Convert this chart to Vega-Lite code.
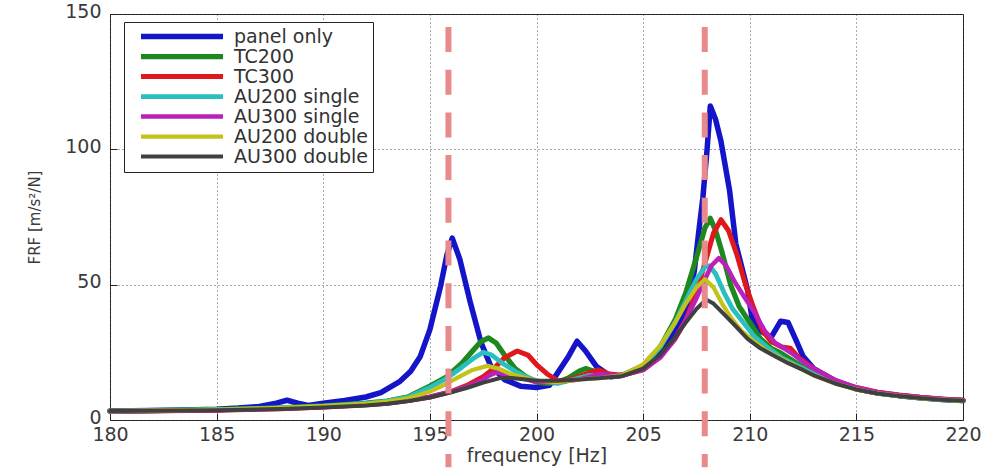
{
  "$schema": "https://vega.github.io/schema/vega-lite/v6.json",
  "width": 853,
  "height": 406,
  "autosize": {"type": "none"},
  "padding": {"left": 110, "top": 14, "right": 23, "bottom": 48},
  "background": "white",
  "config": {
    "view": {"stroke": "#222", "strokeWidth": 1},
    "font": "DejaVu Sans",
    "axis": {
      "domain": false,
      "grid": true,
      "gridColor": "#444",
      "gridDash": [1, 3],
      "gridWidth": 1,
      "gridOpacity": 0.9,
      "ticks": true,
      "tickColor": "#222",
      "tickSize": -7,
      "labelFont": "DejaVu Sans",
      "labelFontSize": 19,
      "labelColor": "#3a3a3a",
      "titleFont": "DejaVu Sans",
      "titleFontWeight": "normal",
      "titleColor": "#3a3a3a"
    }
  },
  "layer": [
    {
      "data": {"values": [
        {"s":"panel only","f":180,"v":3.3},{"s":"panel only","f":183,"v":3.6},{"s":"panel only","f":185,"v":4.0},{"s":"panel only","f":186,"v":4.4},{"s":"panel only","f":187,"v":5.0},{"s":"panel only","f":187.8,"v":6.2},{"s":"panel only","f":188.3,"v":7.3},{"s":"panel only","f":188.8,"v":6.2},{"s":"panel only","f":189.3,"v":5.4},{"s":"panel only","f":190,"v":6.2},{"s":"panel only","f":191,"v":7.2},{"s":"panel only","f":192,"v":8.5},{"s":"panel only","f":192.7,"v":10.1},{"s":"panel only","f":193.6,"v":14.3},{"s":"panel only","f":194.1,"v":18},{"s":"panel only","f":194.55,"v":23.5},{"s":"panel only","f":195.0,"v":33.4},{"s":"panel only","f":195.5,"v":49.4},{"s":"panel only","f":195.8,"v":61},{"s":"panel only","f":196.05,"v":67.2},{"s":"panel only","f":196.4,"v":59.5},{"s":"panel only","f":196.9,"v":43.3},{"s":"panel only","f":197.4,"v":28.6},{"s":"panel only","f":197.85,"v":20},{"s":"panel only","f":198.5,"v":14.9},{"s":"panel only","f":199.25,"v":12.5},{"s":"panel only","f":200.0,"v":12.0},{"s":"panel only","f":200.6,"v":12.8},{"s":"panel only","f":201.0,"v":17.5},{"s":"panel only","f":201.5,"v":23.5},{"s":"panel only","f":201.9,"v":29.1},{"s":"panel only","f":202.3,"v":25.5},{"s":"panel only","f":202.8,"v":19.9},{"s":"panel only","f":203.5,"v":16},{"s":"panel only","f":204,"v":16.5},{"s":"panel only","f":205,"v":19},{"s":"panel only","f":206,"v":27},{"s":"panel only","f":206.5,"v":33},{"s":"panel only","f":206.8,"v":37},{"s":"panel only","f":207.1,"v":44},{"s":"panel only","f":207.4,"v":55},{"s":"panel only","f":207.6,"v":69},{"s":"panel only","f":207.8,"v":82},{"s":"panel only","f":208.0,"v":100},{"s":"panel only","f":208.15,"v":116},{"s":"panel only","f":208.4,"v":111},{"s":"panel only","f":208.65,"v":103},{"s":"panel only","f":209.05,"v":85},{"s":"panel only","f":209.35,"v":65},{"s":"panel only","f":209.9,"v":48},{"s":"panel only","f":210.1,"v":38},{"s":"panel only","f":210.5,"v":33},{"s":"panel only","f":211.0,"v":30.5},{"s":"panel only","f":211.45,"v":36.5},{"s":"panel only","f":211.8,"v":36},{"s":"panel only","f":212.2,"v":29},{"s":"panel only","f":212.5,"v":23.5},{"s":"panel only","f":213,"v":19},{"s":"panel only","f":214,"v":14.5},{"s":"panel only","f":215,"v":11.5},{"s":"panel only","f":216,"v":10},{"s":"panel only","f":217,"v":9},{"s":"panel only","f":218,"v":8.2},{"s":"panel only","f":219,"v":7.6},{"s":"panel only","f":220,"v":7.2},

        {"s":"TC200","f":180,"v":3.3},{"s":"TC200","f":185,"v":3.8},{"s":"TC200","f":188,"v":4.5},{"s":"TC200","f":190,"v":5.2},{"s":"TC200","f":192,"v":6.2},{"s":"TC200","f":193,"v":7},{"s":"TC200","f":194,"v":8.6},{"s":"TC200","f":195,"v":12.5},{"s":"TC200","f":195.8,"v":16},{"s":"TC200","f":196.5,"v":21},{"s":"TC200","f":197.0,"v":25.5},{"s":"TC200","f":197.4,"v":29},{"s":"TC200","f":197.75,"v":30.3},{"s":"TC200","f":198.1,"v":28.5},{"s":"TC200","f":198.5,"v":24},{"s":"TC200","f":199,"v":19},{"s":"TC200","f":199.5,"v":16},{"s":"TC200","f":200,"v":14},{"s":"TC200","f":200.5,"v":13.5},{"s":"TC200","f":201,"v":14},{"s":"TC200","f":201.5,"v":15.5},{"s":"TC200","f":202,"v":18},{"s":"TC200","f":202.3,"v":19},{"s":"TC200","f":202.7,"v":18},{"s":"TC200","f":203.2,"v":16},{"s":"TC200","f":204,"v":16.5},{"s":"TC200","f":205,"v":20},{"s":"TC200","f":205.8,"v":27},{"s":"TC200","f":206.5,"v":37},{"s":"TC200","f":207.0,"v":47},{"s":"TC200","f":207.5,"v":60},{"s":"TC200","f":207.9,"v":71},{"s":"TC200","f":208.15,"v":74.5},{"s":"TC200","f":208.4,"v":70},{"s":"TC200","f":208.7,"v":62},{"s":"TC200","f":209.1,"v":50},{"s":"TC200","f":209.5,"v":42},{"s":"TC200","f":210,"v":36},{"s":"TC200","f":210.5,"v":30},{"s":"TC200","f":211,"v":26.5},{"s":"TC200","f":211.5,"v":24.5},{"s":"TC200","f":212,"v":22},{"s":"TC200","f":212.5,"v":19.5},{"s":"TC200","f":213,"v":17.5},{"s":"TC200","f":214,"v":14},{"s":"TC200","f":215,"v":11.5},{"s":"TC200","f":216,"v":10},{"s":"TC200","f":217,"v":9},{"s":"TC200","f":218,"v":8.2},{"s":"TC200","f":219,"v":7.6},{"s":"TC200","f":220,"v":7.2},

        {"s":"TC300","f":180,"v":3.2},{"s":"TC300","f":185,"v":3.6},{"s":"TC300","f":188,"v":4.2},{"s":"TC300","f":190,"v":4.8},{"s":"TC300","f":192,"v":5.6},{"s":"TC300","f":193,"v":6.2},{"s":"TC300","f":194,"v":7.2},{"s":"TC300","f":195,"v":8.5},{"s":"TC300","f":196,"v":10.5},{"s":"TC300","f":196.8,"v":13},{"s":"TC300","f":197.5,"v":16},{"s":"TC300","f":198,"v":19},{"s":"TC300","f":198.5,"v":23},{"s":"TC300","f":199.1,"v":25.5},{"s":"TC300","f":199.6,"v":24},{"s":"TC300","f":200,"v":20.5},{"s":"TC300","f":200.5,"v":17},{"s":"TC300","f":201,"v":14.5},{"s":"TC300","f":201.5,"v":14.8},{"s":"TC300","f":202,"v":16},{"s":"TC300","f":202.5,"v":17.5},{"s":"TC300","f":202.9,"v":18.5},{"s":"TC300","f":203.4,"v":17},{"s":"TC300","f":204,"v":16.5},{"s":"TC300","f":205,"v":18.5},{"s":"TC300","f":205.8,"v":23.5},{"s":"TC300","f":206.5,"v":30},{"s":"TC300","f":207.0,"v":37},{"s":"TC300","f":207.5,"v":47},{"s":"TC300","f":207.9,"v":58},{"s":"TC300","f":208.3,"v":69},{"s":"TC300","f":208.65,"v":74},{"s":"TC300","f":209.0,"v":70},{"s":"TC300","f":209.4,"v":61},{"s":"TC300","f":209.8,"v":50},{"s":"TC300","f":210.2,"v":41},{"s":"TC300","f":210.6,"v":33},{"s":"TC300","f":211,"v":29},{"s":"TC300","f":211.5,"v":27},{"s":"TC300","f":211.9,"v":26.5},{"s":"TC300","f":212.3,"v":23},{"s":"TC300","f":213,"v":19},{"s":"TC300","f":214,"v":14.5},{"s":"TC300","f":215,"v":12},{"s":"TC300","f":216,"v":10.3},{"s":"TC300","f":217,"v":9.2},{"s":"TC300","f":218,"v":8.4},{"s":"TC300","f":219,"v":7.8},{"s":"TC300","f":220,"v":7.3},

        {"s":"AU200 single","f":180,"v":3.3},{"s":"AU200 single","f":185,"v":3.8},{"s":"AU200 single","f":188,"v":4.5},{"s":"AU200 single","f":190,"v":5.1},{"s":"AU200 single","f":192,"v":6.1},{"s":"AU200 single","f":193,"v":7},{"s":"AU200 single","f":194,"v":8.5},{"s":"AU200 single","f":195,"v":12},{"s":"AU200 single","f":195.8,"v":15.5},{"s":"AU200 single","f":196.5,"v":19.5},{"s":"AU200 single","f":197.0,"v":22.5},{"s":"AU200 single","f":197.5,"v":25},{"s":"AU200 single","f":197.9,"v":24},{"s":"AU200 single","f":198.4,"v":21},{"s":"AU200 single","f":199,"v":18},{"s":"AU200 single","f":199.5,"v":16},{"s":"AU200 single","f":200,"v":14.5},{"s":"AU200 single","f":201,"v":13.5},{"s":"AU200 single","f":202,"v":15.5},{"s":"AU200 single","f":202.5,"v":16.5},{"s":"AU200 single","f":203,"v":16},{"s":"AU200 single","f":204,"v":16.5},{"s":"AU200 single","f":205,"v":20},{"s":"AU200 single","f":205.8,"v":27},{"s":"AU200 single","f":206.5,"v":36},{"s":"AU200 single","f":207.0,"v":44},{"s":"AU200 single","f":207.5,"v":52},{"s":"AU200 single","f":207.9,"v":56.5},{"s":"AU200 single","f":208.1,"v":57},{"s":"AU200 single","f":208.4,"v":54},{"s":"AU200 single","f":208.8,"v":47},{"s":"AU200 single","f":209.2,"v":41},{"s":"AU200 single","f":209.7,"v":36},{"s":"AU200 single","f":210.2,"v":31},{"s":"AU200 single","f":210.8,"v":27},{"s":"AU200 single","f":211.5,"v":23},{"s":"AU200 single","f":212,"v":21},{"s":"AU200 single","f":213,"v":17},{"s":"AU200 single","f":214,"v":13.8},{"s":"AU200 single","f":215,"v":11.5},{"s":"AU200 single","f":216,"v":10},{"s":"AU200 single","f":217,"v":9},{"s":"AU200 single","f":218,"v":8.2},{"s":"AU200 single","f":219,"v":7.6},{"s":"AU200 single","f":220,"v":7.2},

        {"s":"AU300 single","f":180,"v":3.2},{"s":"AU300 single","f":185,"v":3.6},{"s":"AU300 single","f":188,"v":4.2},{"s":"AU300 single","f":190,"v":4.8},{"s":"AU300 single","f":192,"v":5.6},{"s":"AU300 single","f":193,"v":6.2},{"s":"AU300 single","f":194,"v":7.2},{"s":"AU300 single","f":195,"v":8.5},{"s":"AU300 single","f":196,"v":10.5},{"s":"AU300 single","f":196.8,"v":12.5},{"s":"AU300 single","f":197.4,"v":14.5},{"s":"AU300 single","f":197.8,"v":16.5},{"s":"AU300 single","f":198.1,"v":17.5},{"s":"AU300 single","f":198.5,"v":17},{"s":"AU300 single","f":199,"v":16},{"s":"AU300 single","f":199.5,"v":15},{"s":"AU300 single","f":200,"v":14},{"s":"AU300 single","f":201,"v":14},{"s":"AU300 single","f":202,"v":15},{"s":"AU300 single","f":202.5,"v":16},{"s":"AU300 single","f":203,"v":17},{"s":"AU300 single","f":203.5,"v":16.5},{"s":"AU300 single","f":204,"v":16.5},{"s":"AU300 single","f":205,"v":18.5},{"s":"AU300 single","f":205.8,"v":23},{"s":"AU300 single","f":206.5,"v":30},{"s":"AU300 single","f":207.0,"v":37},{"s":"AU300 single","f":207.5,"v":45},{"s":"AU300 single","f":207.9,"v":52},{"s":"AU300 single","f":208.2,"v":57},{"s":"AU300 single","f":208.55,"v":59.8},{"s":"AU300 single","f":208.9,"v":57},{"s":"AU300 single","f":209.3,"v":51},{"s":"AU300 single","f":209.7,"v":46},{"s":"AU300 single","f":210.2,"v":40},{"s":"AU300 single","f":210.7,"v":33},{"s":"AU300 single","f":211.2,"v":28.5},{"s":"AU300 single","f":211.6,"v":26.5},{"s":"AU300 single","f":212,"v":24.5},{"s":"AU300 single","f":212.5,"v":21.5},{"s":"AU300 single","f":213,"v":19},{"s":"AU300 single","f":214,"v":14.8},{"s":"AU300 single","f":215,"v":12},{"s":"AU300 single","f":216,"v":10.3},{"s":"AU300 single","f":217,"v":9.2},{"s":"AU300 single","f":218,"v":8.4},{"s":"AU300 single","f":219,"v":7.8},{"s":"AU300 single","f":220,"v":7.3},

        {"s":"AU200 double","f":180,"v":3.3},{"s":"AU200 double","f":185,"v":3.8},{"s":"AU200 double","f":188,"v":4.5},{"s":"AU200 double","f":190,"v":5.1},{"s":"AU200 double","f":192,"v":6},{"s":"AU200 double","f":193,"v":6.8},{"s":"AU200 double","f":194,"v":8},{"s":"AU200 double","f":195,"v":10.5},{"s":"AU200 double","f":195.8,"v":13.5},{"s":"AU200 double","f":196.5,"v":16.5},{"s":"AU200 double","f":197.0,"v":18.5},{"s":"AU200 double","f":197.7,"v":20},{"s":"AU200 double","f":198.2,"v":19},{"s":"AU200 double","f":198.8,"v":17},{"s":"AU200 double","f":199.5,"v":15.5},{"s":"AU200 double","f":200,"v":14.5},{"s":"AU200 double","f":201,"v":14},{"s":"AU200 double","f":202,"v":15},{"s":"AU200 double","f":203,"v":15.5},{"s":"AU200 double","f":204,"v":16.5},{"s":"AU200 double","f":205,"v":20.5},{"s":"AU200 double","f":205.8,"v":27.5},{"s":"AU200 double","f":206.5,"v":36},{"s":"AU200 double","f":207.0,"v":43},{"s":"AU200 double","f":207.5,"v":49},{"s":"AU200 double","f":207.9,"v":52},{"s":"AU200 double","f":208.3,"v":49},{"s":"AU200 double","f":208.7,"v":43},{"s":"AU200 double","f":209.1,"v":38},{"s":"AU200 double","f":209.6,"v":33},{"s":"AU200 double","f":210.2,"v":29},{"s":"AU200 double","f":210.8,"v":25.5},{"s":"AU200 double","f":211.5,"v":22.5},{"s":"AU200 double","f":212,"v":20.5},{"s":"AU200 double","f":213,"v":16.5},{"s":"AU200 double","f":214,"v":13.5},{"s":"AU200 double","f":215,"v":11.3},{"s":"AU200 double","f":216,"v":9.8},{"s":"AU200 double","f":217,"v":8.9},{"s":"AU200 double","f":218,"v":8.1},{"s":"AU200 double","f":219,"v":7.5},{"s":"AU200 double","f":220,"v":7.1},

        {"s":"AU300 double","f":180,"v":3.3},{"s":"AU300 double","f":185,"v":3.6},{"s":"AU300 double","f":188,"v":4.1},{"s":"AU300 double","f":190,"v":4.6},{"s":"AU300 double","f":192,"v":5.4},{"s":"AU300 double","f":193,"v":6},{"s":"AU300 double","f":194,"v":7},{"s":"AU300 double","f":195,"v":8.3},{"s":"AU300 double","f":196,"v":10.2},{"s":"AU300 double","f":196.8,"v":12},{"s":"AU300 double","f":197.5,"v":13.8},{"s":"AU300 double","f":198.3,"v":15.5},{"s":"AU300 double","f":198.8,"v":15.5},{"s":"AU300 double","f":199.5,"v":15},{"s":"AU300 double","f":200,"v":14.5},{"s":"AU300 double","f":201,"v":14.5},{"s":"AU300 double","f":202,"v":15},{"s":"AU300 double","f":203,"v":15.5},{"s":"AU300 double","f":204,"v":16.2},{"s":"AU300 double","f":205,"v":19},{"s":"AU300 double","f":205.8,"v":24},{"s":"AU300 double","f":206.5,"v":30.5},{"s":"AU300 double","f":207.0,"v":36},{"s":"AU300 double","f":207.5,"v":41},{"s":"AU300 double","f":207.95,"v":44.5},{"s":"AU300 double","f":208.3,"v":43},{"s":"AU300 double","f":208.8,"v":39},{"s":"AU300 double","f":209.3,"v":35},{"s":"AU300 double","f":209.9,"v":30},{"s":"AU300 double","f":210.5,"v":26.5},{"s":"AU300 double","f":211.2,"v":23.5},{"s":"AU300 double","f":211.8,"v":21},{"s":"AU300 double","f":212.5,"v":18.5},{"s":"AU300 double","f":213,"v":16.5},{"s":"AU300 double","f":214,"v":13.5},{"s":"AU300 double","f":215,"v":11.3},{"s":"AU300 double","f":216,"v":9.8},{"s":"AU300 double","f":217,"v":8.9},{"s":"AU300 double","f":218,"v":8.1},{"s":"AU300 double","f":219,"v":7.5},{"s":"AU300 double","f":220,"v":7.1}
      ]},
      "mark": {"type": "line", "strokeJoin": "round", "strokeCap": "round"},
      "encoding": {
        "x": {
          "field": "f", "type": "quantitative",
          "scale": {"domain": [180, 220], "nice": false},
          "axis": {"values": [180, 185, 190, 195, 200, 205, 210, 215, 220], "title": "frequency [Hz]", "titleFontSize": 19, "titlePadding": 2, "labelPadding": 12, "labelFlush": false}
        },
        "y": {
          "field": "v", "type": "quantitative",
          "scale": {"domain": [0, 150], "nice": false},
          "axis": {"values": [0, 50, 100, 150], "title": "FRF [m/s²/N]", "titleFontSize": 15, "titlePadding": 22, "labelPadding": 16, "labelOffset": -3}
        },
        "color": {
          "field": "s", "type": "nominal",
          "scale": {
            "domain": ["panel only", "TC200", "TC300", "AU200 single", "AU300 single", "AU200 double", "AU300 double"],
            "range": ["#1414c8", "#1e871e", "#e0181c", "#2abfbf", "#bb20bb", "#c2c21a", "#404040"]
          },
          "legend": {
            "orient": "none", "legendX": 14, "legendY": 8,
            "title": null,
            "symbolType": "stroke", "symbolSize": 6724, "symbolStrokeWidth": 3,
            "symbolOffset": 9,
            "clipHeight": 19,
            "labelFont": "DejaVu Sans", "labelFontSize": 19, "labelColor": "#333",
            "labelOffset": 8,
            "rowPadding": 0,
            "padding": 5,
            "strokeColor": "#222", "fillColor": "white"
          }
        },
        "strokeWidth": {
          "field": "s", "type": "nominal",
          "scale": {
            "domain": ["panel only", "TC200", "TC300", "AU200 single", "AU300 single", "AU200 double", "AU300 double"],
            "range": [5.5, 4, 4.5, 4, 4, 4, 4]
          },
          "legend": null
        }
      }
    },
    {
      "data": {"values": [{"f": 195.87}, {"f": 207.89}]},
      "mark": {"type": "rule", "color": "#e8898b", "strokeWidth": 6, "strokeDash": [25, 17.7], "clip": false},
      "encoding": {
        "x": {"field": "f", "type": "quantitative"},
        "y": {"datum": 145.2},
        "y2": {"datum": -17.5}
      }
    }
  ]
}
